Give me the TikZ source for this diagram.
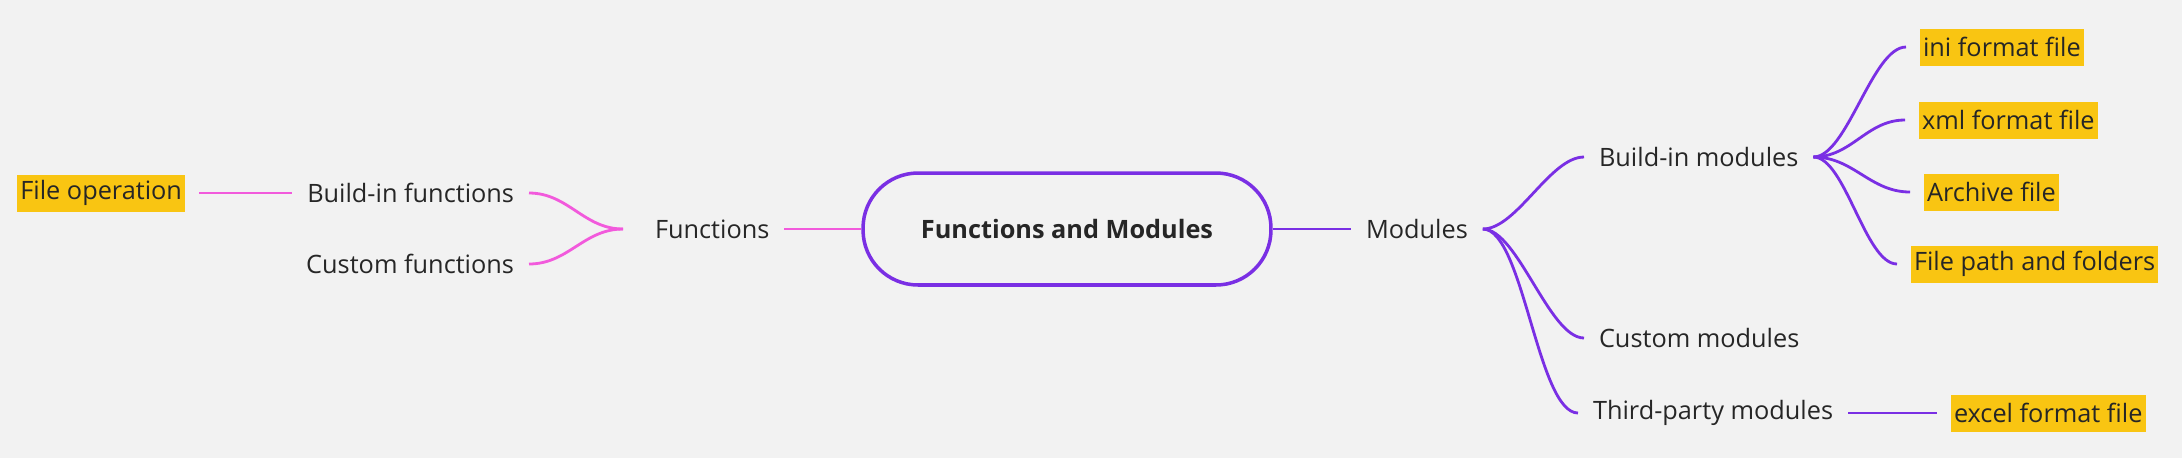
\documentclass[tikz,border=0pt]{standalone}
\usepackage{fontspec}
\setmainfont{Open Sans}
\usepackage{tikz}
\usetikzlibrary{positioning}
\definecolor{bgray}{HTML}{F2F2F2}
\definecolor{mpink}{HTML}{F25ADC}
\definecolor{mpurple}{HTML}{7A2FE4}
\definecolor{hlyellow}{HTML}{F9C512}
\definecolor{ink}{HTML}{262626}
\tikzstyle{topic} = [inner sep=0pt, outer xsep=0.3cm, text=ink, font=\fontsize{14.4}{17}\selectfont]
\tikzstyle{leaf} = [topic, fill=hlyellow, inner xsep=0.06cm, minimum height=0.74cm, outer xsep=0.28cm]
\tikzstyle{rootbox} = [draw=mpurple, line width=2pt, rounded corners=1.1cm, minimum width=8.16cm, minimum height=2.24cm, inner sep=0pt, text=ink, font=\fontsize{14.4}{17}\selectfont\bfseries]
\tikzstyle{pinkline} = [mpink, line width=1.6pt]
\tikzstyle{purpline} = [mpurple, line width=1.6pt]

\begin{document}
\begin{tikzpicture}[x=0.02cm,y=-0.02cm]
      \fill[bgray] (0,0) rectangle (2182,458);
      \useasboundingbox (0,0) rectangle (2182,458);
      \node[rootbox] (root) at (1067,229) {Functions and Modules};
      % left side
      \node[topic, anchor=west] (f) at (640,229) {Functions};
      \coordinate (jf) at (623,229);
      \node[topic, anchor=east] (f1) at (529,193) {Build-in functions};
      \node[topic, anchor=east] (f2) at (529,264) {Custom functions};
      \node[leaf, anchor=east] (f11) at (199,193) {File operation};
      % right side
      \node[topic, anchor=west] (m) at (1351,229) {Modules};
      \node[topic, anchor=west] (m1) at (1584,157) {Build-in modules};
      \node[topic, anchor=west] (m2) at (1584,338) {Custom modules};
      \node[topic, anchor=west] (m3) at (1578,413) {Third-party modules};
      \node[leaf, anchor=west] (m11) at (1906,47) {ini format file};
      \node[leaf, anchor=west] (m12) at (1905,120) {xml format file};
      \node[leaf, anchor=west] (m13) at (1910,192) {Archive file};
      \node[leaf, anchor=west] (m14) at (1897,264) {File path and folders};
      \node[leaf, anchor=west] (m31) at (1937,413) {excel format file};
      \draw[pinkline] (f.east)--(root.west);
      \draw[pinkline] (jf) to[out=180,in=0] (f1.east);
      \draw[pinkline] (jf) to[out=180,in=0] (f2.east);
      \draw[pinkline] (f11.east)--(f1.west);
      \draw[purpline] (root.east)--(m.west);
      \draw[purpline] (m.east) to[out=0,in=180,looseness=0.7] (m1.west);
      \draw[purpline] (m.east) to[out=0,in=180,looseness=0.6] (m2.west);
      \draw[purpline] (m.east) to[out=0,in=180,looseness=0.5] (m3.west);
      \draw[purpline] (m1.east) to[out=0,in=180,looseness=0.6] (m11.west);
      \draw[purpline] (m1.east) to[out=0,in=180] (m12.west);
      \draw[purpline] (m1.east) to[out=0,in=180] (m13.west);
      \draw[purpline] (m1.east) to[out=0,in=180,looseness=0.6] (m14.west);
      \draw[purpline] (m3.east)--(m31.west);
\end{tikzpicture}
\end{document}
